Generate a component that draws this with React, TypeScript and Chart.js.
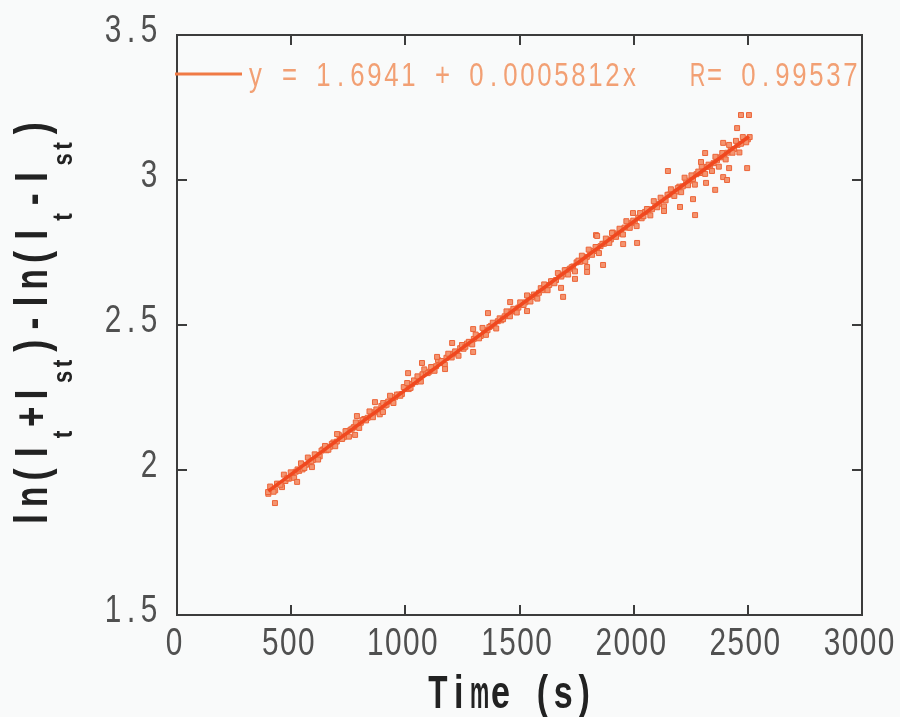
import React, { useEffect, useRef } from "react";
import { Chart, registerables } from "chart.js";

Chart.register(...registerables);

// ---- data ----
const X_TICKS = [0, 500, 1000, 1500, 2000, 2500, 3000];
const X_TICK_LABELS = ["0", "500", "1000", "1500", "2000", "2500", "3000"];
const Y_TICKS = [1.5, 2, 2.5, 3, 3.5];
const Y_TICK_LABELS = ["1.5", "2", "2.5", "3", "3.5"];

// measured points, run A (time in s, ln ratio)
const RUN_A: [number, number][] = [
  [400, 1.918], [415, 1.935], [430, 1.93], [445, 1.952], [460, 1.941], [475, 1.962], [490, 1.97], [505, 1.981], [520, 1.994], [535, 1.997],
  [550, 2.002], [565, 2.018], [580, 2.028], [595, 2.034], [610, 2.052], [625, 2.047], [640, 2.071], [655, 2.068], [670, 2.08], [685, 2.095],
  [700, 2.098], [715, 2.116], [730, 2.113], [745, 2.134], [760, 2.139], [775, 2.148], [790, 2.157], [805, 2.163], [820, 2.176], [835, 2.18],
  [850, 2.192], [865, 2.199], [880, 2.205], [895, 2.221], [910, 2.222], [925, 2.236], [940, 2.238], [955, 2.251], [970, 2.26], [985, 2.262],
  [1000, 2.281], [1015, 2.279], [1030, 2.297], [1045, 2.303], [1060, 2.312], [1075, 2.33], [1090, 2.336], [1105, 2.339], [1120, 2.355], [1135, 2.358],
  [1150, 2.37], [1165, 2.369], [1180, 2.387], [1195, 2.392], [1210, 2.401], [1225, 2.405], [1240, 2.42], [1255, 2.418], [1270, 2.436], [1285, 2.441],
  [1300, 2.452], [1315, 2.46], [1330, 2.462], [1345, 2.48], [1360, 2.482], [1375, 2.497], [1390, 2.5], [1405, 2.513], [1420, 2.516], [1435, 2.53],
  [1450, 2.532], [1465, 2.547], [1480, 2.549], [1495, 2.56], [1510, 2.574], [1525, 2.578], [1540, 2.585], [1555, 2.597], [1570, 2.604], [1585, 2.611],
  [1600, 2.62], [1615, 2.636], [1630, 2.638], [1645, 2.651], [1660, 2.655], [1675, 2.671], [1690, 2.674], [1705, 2.689], [1720, 2.694], [1735, 2.702],
  [1750, 2.716], [1765, 2.718], [1780, 2.733], [1795, 2.735], [1810, 2.75], [1825, 2.755], [1840, 2.764], [1855, 2.772], [1870, 2.78], [1885, 2.79],
  [1900, 2.795], [1915, 2.808], [1930, 2.815], [1945, 2.82], [1960, 2.836], [1975, 2.837], [1990, 2.851], [2005, 2.855], [2020, 2.87], [2035, 2.868],
  [2050, 2.89], [2065, 2.892], [2080, 2.899], [2095, 2.915], [2110, 2.918], [2125, 2.932], [2140, 2.93], [2155, 2.95], [2170, 2.952], [2185, 2.96],
  [2200, 2.977], [2215, 2.978], [2230, 2.994], [2245, 2.998], [2260, 3.003], [2275, 3.02], [2290, 3.024], [2305, 3.03], [2320, 3.045], [2335, 3.05],
  [2350, 3.058], [2365, 3.068], [2380, 3.078], [2395, 3.082], [2410, 3.094], [2425, 3.103], [2440, 3.107], [2455, 3.121], [2470, 3.125], [2485, 3.138],
  [2500, 3.14],
];

// measured points, run B (interleaved in time)
const RUN_B: [number, number][] = [
  [408, 1.943], [423, 1.925], [438, 1.953], [453, 1.949], [468, 1.984], [483, 1.972], [498, 1.992], [513, 1.973], [528, 2.002], [543, 2.023],
  [558, 2.007], [573, 2.043], [588, 2.03], [603, 2.054], [618, 2.036], [633, 2.067], [648, 2.083], [663, 2.07], [678, 2.09], [693, 2.082],
  [708, 2.122], [723, 2.107], [738, 2.134], [753, 2.115], [768, 2.143], [783, 2.164], [798, 2.145], [813, 2.172], [828, 2.171], [843, 2.202],
  [858, 2.182], [873, 2.209], [888, 2.192], [903, 2.231], [918, 2.225], [933, 2.256], [948, 2.231], [963, 2.26], [978, 2.256], [993, 2.286],
  [1008, 2.3], [1023, 2.283], [1038, 2.309], [1053, 2.323], [1068, 2.305], [1083, 2.347], [1098, 2.334], [1113, 2.355], [1128, 2.342], [1143, 2.379],
  [1158, 2.376], [1173, 2.363], [1188, 2.401], [1203, 2.388], [1218, 2.409], [1233, 2.394], [1248, 2.431], [1263, 2.425], [1278, 2.442], [1293, 2.433],
  [1308, 2.467], [1323, 2.454], [1338, 2.49], [1353, 2.466], [1368, 2.493], [1383, 2.508], [1398, 2.488], [1413, 2.523], [1428, 2.52], [1443, 2.547],
  [1458, 2.53], [1473, 2.556], [1488, 2.543], [1503, 2.578], [1518, 2.569], [1533, 2.602], [1548, 2.581], [1563, 2.605], [1578, 2.591], [1593, 2.627],
  [1608, 2.64], [1623, 2.62], [1638, 2.651], [1653, 2.644], [1668, 2.679], [1683, 2.667], [1698, 2.689], [1713, 2.674], [1728, 2.699], [1743, 2.685],
  [1758, 2.722], [1773, 2.739], [1788, 2.72], [1803, 2.76], [1818, 2.742], [1833, 2.769], [1848, 2.748], [1863, 2.78], [1878, 2.798], [1893, 2.783],
  [1908, 2.819], [1923, 2.804], [1938, 2.832], [1953, 2.812], [1968, 2.858], [1983, 2.835], [1998, 2.86], [2013, 2.841], [2028, 2.886], [2043, 2.875],
  [2058, 2.9], [2073, 2.878], [2088, 2.927], [2103, 2.906], [2118, 2.939], [2133, 2.909], [2148, 2.949], [2163, 2.968], [2178, 2.945], [2193, 2.972],
  [2208, 2.958], [2223, 3.008], [2238, 2.982], [2253, 3.016], [2268, 2.984], [2283, 3.029], [2298, 3.047], [2313, 3.021], [2328, 3.053], [2343, 3.031],
  [2358, 3.08], [2373, 3.046], [2388, 3.093], [2403, 3.071], [2418, 3.121], [2433, 3.094], [2448, 3.135], [2463, 3.095], [2478, 3.148], [2493, 3.13],
  [2508, 3.148],
];

// scattered points further from the fit
const SCATTERED: [number, number][] = [
  [2470, 3.224], [2505, 3.224], [2453, 3.179], [2392, 3.128], [2497, 3.041], [2418, 3.041], [2313, 3.093], [2295, 3.062],
  [2150, 3.031], [2392, 3.01], [2409, 3.0], [2317, 2.99], [2357, 2.966], [2260, 2.934], [2269, 2.879], [2203, 2.907],
  [2133, 2.893], [2015, 2.783], [1954, 2.779], [1866, 2.707], [1835, 2.81], [1997, 2.886], [1796, 2.7], [1796, 2.683],
  [1691, 2.597], [1682, 2.628], [1743, 2.659], [1533, 2.548], [1459, 2.579], [1362, 2.541], [1297, 2.486], [1205, 2.438],
  [1297, 2.407], [1139, 2.39], [1174, 2.348], [1840, 2.807], [1905, 2.817], [1012, 2.334], [1073, 2.369], [867, 2.234],
  [788, 2.186], [701, 2.124], [780, 2.121], [591, 2.01], [399, 1.924], [429, 1.886], [902, 2.2], [526, 1.959],
];

// linear fit end points
const FIT_T = [400, 2505];
const FIT_Y = [1.927, 3.15];
const FIT_LABEL = "y = 1.6941 + 0.0005812x   R= 0.99537";
const X_TITLE = "Time (s)";
const Y_TITLE_SEGMENTS: [string, boolean][] = [
  ["ln(I", false], ["t", true], ["+I", false], ["st", true],
  [")-ln(I", false], ["t", true], ["-I", false], ["st", true], [")", false],
];

const SANS = '"Liberation Sans", Arial, "DejaVu Sans", sans-serif';

// draw text with every character centred in a fixed-width cell (monospaced look)
function drawCells(
  ctx: CanvasRenderingContext2D,
  text: string,
  x: number,
  y: number,
  font: string,
  cellW: number,
  align: "left" | "center" | "right",
  color: string,
  sx: number,
  maxFrac = 0.92
) {
  const total = text.length * cellW;
  const start = align === "left" ? x : align === "center" ? x - total / 2 : x - total;
  ctx.save();
  ctx.font = font;
  ctx.fillStyle = color;
  ctx.textAlign = "center";
  ctx.textBaseline = "alphabetic";
  for (let i = 0; i < text.length; i++) {
    const ch = text[i];
    if (ch === " ") continue;
    const w = ctx.measureText(ch).width;
    const s = Math.min(sx, (cellW * maxFrac) / Math.max(w, 0.001));
    ctx.save();
    ctx.translate(start + (i + 0.5) * cellW, y);
    ctx.scale(s, 1);
    ctx.fillText(ch, 0, 0);
    ctx.restore();
  }
  ctx.restore();
  return total;
}

const decorPlugin = {
  id: "decor",
  beforeDraw(chart: any) {
    const ctx = chart.ctx as CanvasRenderingContext2D;
    ctx.save();
    ctx.fillStyle = "#f9fafa";
    ctx.fillRect(0, 0, chart.width, chart.height);
    ctx.restore();
  },
  afterDatasetsDraw(chart: any) {
    const ctx = chart.ctx as CanvasRenderingContext2D;
    const a = chart.chartArea;
    const xs = chart.scales.x;
    const ys = chart.scales.y;
    ctx.save();
    ctx.strokeStyle = "#3c3c3c";
    ctx.lineWidth = 2;
    ctx.strokeRect(a.left, a.top, a.right - a.left, a.bottom - a.top);
    const TL = 10;
    ctx.beginPath();
    X_TICKS.forEach((v) => {
      const px = Math.round(xs.getPixelForValue(v));
      if (px <= a.left + 1 || px >= a.right - 1) return;
      ctx.moveTo(px, a.bottom);
      ctx.lineTo(px, a.bottom - TL);
      ctx.moveTo(px, a.top);
      ctx.lineTo(px, a.top + TL);
    });
    Y_TICKS.forEach((v) => {
      const py = Math.round(ys.getPixelForValue(v));
      if (py <= a.top + 1 || py >= a.bottom - 1) return;
      ctx.moveTo(a.left, py);
      ctx.lineTo(a.left + TL, py);
      ctx.moveTo(a.right, py);
      ctx.lineTo(a.right - TL, py);
    });
    ctx.stroke();
    ctx.restore();

    const tickFont = `39px ${SANS}`;
    const tickColor = "#505050";
    X_TICKS.forEach((v, i) => {
      const px = xs.getPixelForValue(v);
      drawCells(ctx, X_TICK_LABELS[i], px - 3, a.bottom + 40, tickFont, 18, "center", tickColor, 0.8);
    });
    Y_TICKS.forEach((v, i) => {
      const py = ys.getPixelForValue(v);
      drawCells(ctx, Y_TICK_LABELS[i], a.left - 19, py + 7, tickFont, 18, "right", tickColor, 0.8);
    });

    // x title
    drawCells(ctx, X_TITLE, 511, 708, `bold 46px ${SANS}`, 20.9, "center", "#222222", 0.74);

    // y title with subscripts (rotated)
    const mainFont = `bold 46px ${SANS}`;
    const subFont = `bold 27px ${SANS}`;
    const mainW = 22.2;
    const subW = 13.3;
    ctx.save();
    ctx.translate(47, 530);
    ctx.rotate(-Math.PI / 2);
    let cx = 0;
    Y_TITLE_SEGMENTS.forEach(([t, sub]) => {
      if (sub) {
        cx += drawCells(ctx, t, cx, 25, subFont, subW, "left", "#222222", 0.85);
      } else {
        cx += drawCells(ctx, t, cx, 0, mainFont, mainW, "left", "#222222", 0.78);
      }
    });
    ctx.restore();

    // legend
    ctx.save();
    ctx.strokeStyle = "#f07a45";
    ctx.lineWidth = 3;
    ctx.beginPath();
    ctx.moveTo(175, 74);
    ctx.lineTo(242, 74);
    ctx.stroke();
    ctx.restore();
    drawCells(ctx, FIT_LABEL, 247, 86, `33px ${SANS}`, 17.0, "left", "#f2a074", 0.78);
  },
};

export default function App() {
  const ref = useRef<HTMLCanvasElement | null>(null);
  useEffect(() => {
    if (!ref.current) return;
    const pts = [...RUN_A, ...RUN_B, ...SCATTERED].map(([x, y]) => ({ x, y }));
    const fit = FIT_T.map((x, i) => ({ x, y: FIT_Y[i] }));
    const chart = new Chart(ref.current, {
      type: "scatter",
      data: {
        datasets: [
          {
            label: "fit",
            data: fit,
            showLine: true,
            borderColor: "#f0481f",
            borderWidth: 3.5,
            pointRadius: 0,
            order: 0,
          } as any,
          {
            label: "data",
            data: pts,
            pointStyle: "rect",
            pointRadius: 3.5,
            pointBorderWidth: 1,
            backgroundColor: "#f39470",
            borderColor: "#ec6438",
            order: 1,
          } as any,
        ],
      },
      options: {
        animation: false,
        responsive: false,
        layout: { padding: { left: 177, right: 38, top: 35, bottom: 102 } },
        plugins: { legend: { display: false }, tooltip: { enabled: false } },
        scales: {
          x: { type: "linear", display: false, min: 0, max: 3000 },
          y: { type: "linear", display: false, min: 1.5, max: 3.5 },
        },
      },
      plugins: [decorPlugin],
    });
    return () => chart.destroy();
  }, []);
  return (
    <div style={{ position: "absolute", left: 0, top: 0, width: 900, height: 717 }}>
      <canvas ref={ref} width={900} height={717} style={{ display: "block" }} />
    </div>
  );
}
